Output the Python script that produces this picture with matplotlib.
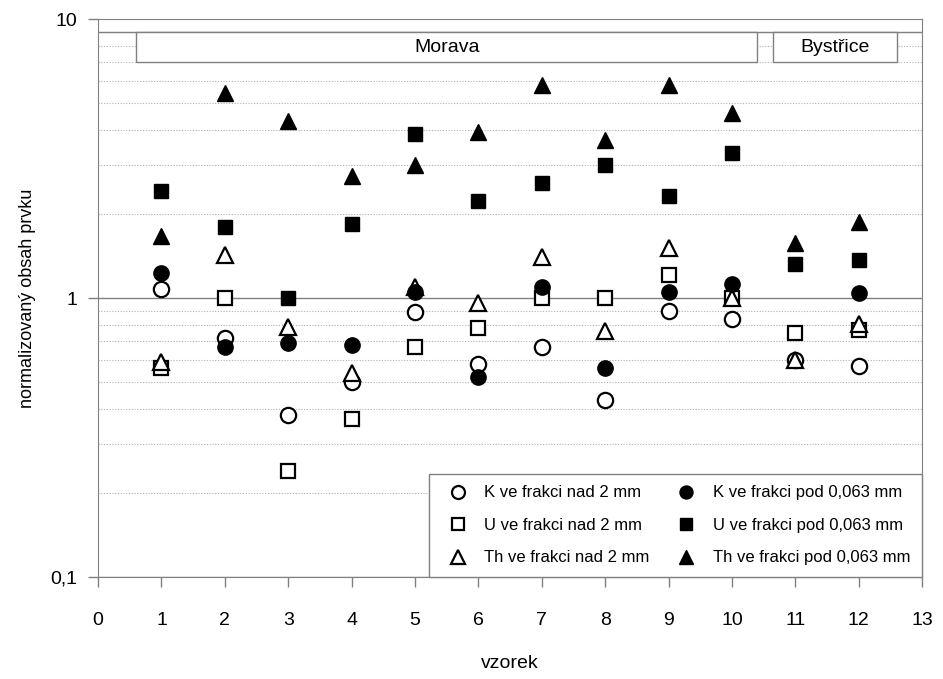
import numpy as np
import matplotlib
matplotlib.use('Agg')
import matplotlib.pyplot as plt
from matplotlib.patches import Rectangle

plt.rcParams['font.family'] = ['Liberation Sans Narrow', 'Liberation Sans', 'DejaVu Sans']

# vzorky
vzorek = [1, 2, 3, 4, 5, 6, 7, 8, 9, 10, 11, 12]

# frakce nad 2 mm
K_nad = [1.08, 0.72, 0.38, 0.50, 0.89, 0.58, 0.67, 0.43, 0.90, 0.84, 0.60, 0.57]
U_nad = [0.56, 1.00, 0.24, 0.37, 0.67, 0.78, 1.00, 1.00, 1.21, 1.00, 0.75, 0.77]
Th_nad = [0.59, 1.43, 0.79, 0.54, 1.10, 0.96, 1.40, 0.76, 1.51, 1.00, 0.60, 0.81]

# frakce pod 0,063 mm
K_pod = [1.23, 0.67, 0.69, 0.68, 1.05, 0.52, 1.10, 0.56, 1.05, 1.12, np.nan, 1.04]
U_pod = [2.42, 1.80, 1.00, 1.85, 3.87, 2.23, 2.58, 3.01, 2.32, 3.30, 1.32, 1.37]
Th_pod = [1.67, 5.41, 4.32, 2.74, 3.01, 3.95, 5.80, 3.70, 5.80, 4.59, 1.58, 1.88]

oblasti = ['Morava', 'Bystřice']
oblasti_x = [(0.6, 10.4), (10.65, 12.6)]

seda = '#808080'

fig = plt.figure(figsize=(9.43, 6.79), dpi=100)
ax = fig.add_axes([0.104, 0.150, 0.874, 0.822])

ax.set_yscale('log')
ax.set_ylim(0.1, 10)
ax.set_xlim(0, 13)

# mrizka
for m in range(1, 10):
    for d in [0.1, 1]:
        v = m * d
        if m == 1:
            ax.axhline(v, color=seda, lw=1, zorder=1)
        else:
            ax.axhline(v, color='#b0b0b0', lw=0.8, ls=(0, (1, 1.5)), zorder=1)
ax.axhline(9, color=seda, lw=1, zorder=1)

ms = 11
mew = 1.6
ax.plot(vzorek, K_nad, 'o', ms=ms, mfc='white', mec='black', mew=mew, label='K ve frakci nad 2 mm', zorder=3)
ax.plot(vzorek, U_nad, 's', ms=ms - 1, mfc='white', mec='black', mew=mew, label='U ve frakci nad 2 mm', zorder=3)
ax.plot(vzorek, Th_nad, '^', ms=ms + 1, mfc='white', mec='black', mew=mew, label='Th ve frakci nad 2 mm', zorder=3)
ax.plot(vzorek, K_pod, 'o', ms=ms, color='black', label='K ve frakci pod 0,063 mm', zorder=3)
ax.plot(vzorek, U_pod, 's', ms=ms - 1, color='black', label='U ve frakci pod 0,063 mm', zorder=3)
ax.plot(vzorek, Th_pod, '^', ms=ms + 1, color='black', label='Th ve frakci pod 0,063 mm', zorder=3)

# popisky oblasti
for nazev, (x0, x1) in zip(oblasti, oblasti_x):
    ax.add_patch(Rectangle((x0, 7), x1 - x0, 2, facecolor='white', edgecolor=seda, lw=1, zorder=2))
    ax.text((x0 + x1) / 2, np.sqrt(7 * 9), nazev, ha='center', va='center', fontsize=14, zorder=4)

ax.set_xticks(range(0, 14))
ax.set_yticks([0.1, 1, 10])
ax.set_yticklabels(['0,1', '1', '10'])
ax.yaxis.set_minor_locator(matplotlib.ticker.NullLocator())
ax.tick_params(axis='both', direction='out', length=7, color=seda, labelsize=14, width=1)
ax.tick_params(axis='x', pad=18)
ax.tick_params(axis='y', pad=8)
for s in ax.spines.values():
    s.set_color(seda)

ax.set_xlabel('vzorek', fontsize=14, labelpad=19)
ax.set_ylabel('normalizovaný obsah prvku', fontsize=13, labelpad=10)

leg = ax.legend(loc='lower right', ncol=2, fontsize=12, frameon=True, fancybox=False,
                borderaxespad=0, edgecolor=seda, framealpha=1, handletextpad=0.6,
                columnspacing=1.2, labelspacing=1.05, borderpad=0.7, markerscale=0.85)
leg.get_frame().set_linewidth(1)
leg.set_zorder(5)

fig.savefig('out.png', dpi=100)
